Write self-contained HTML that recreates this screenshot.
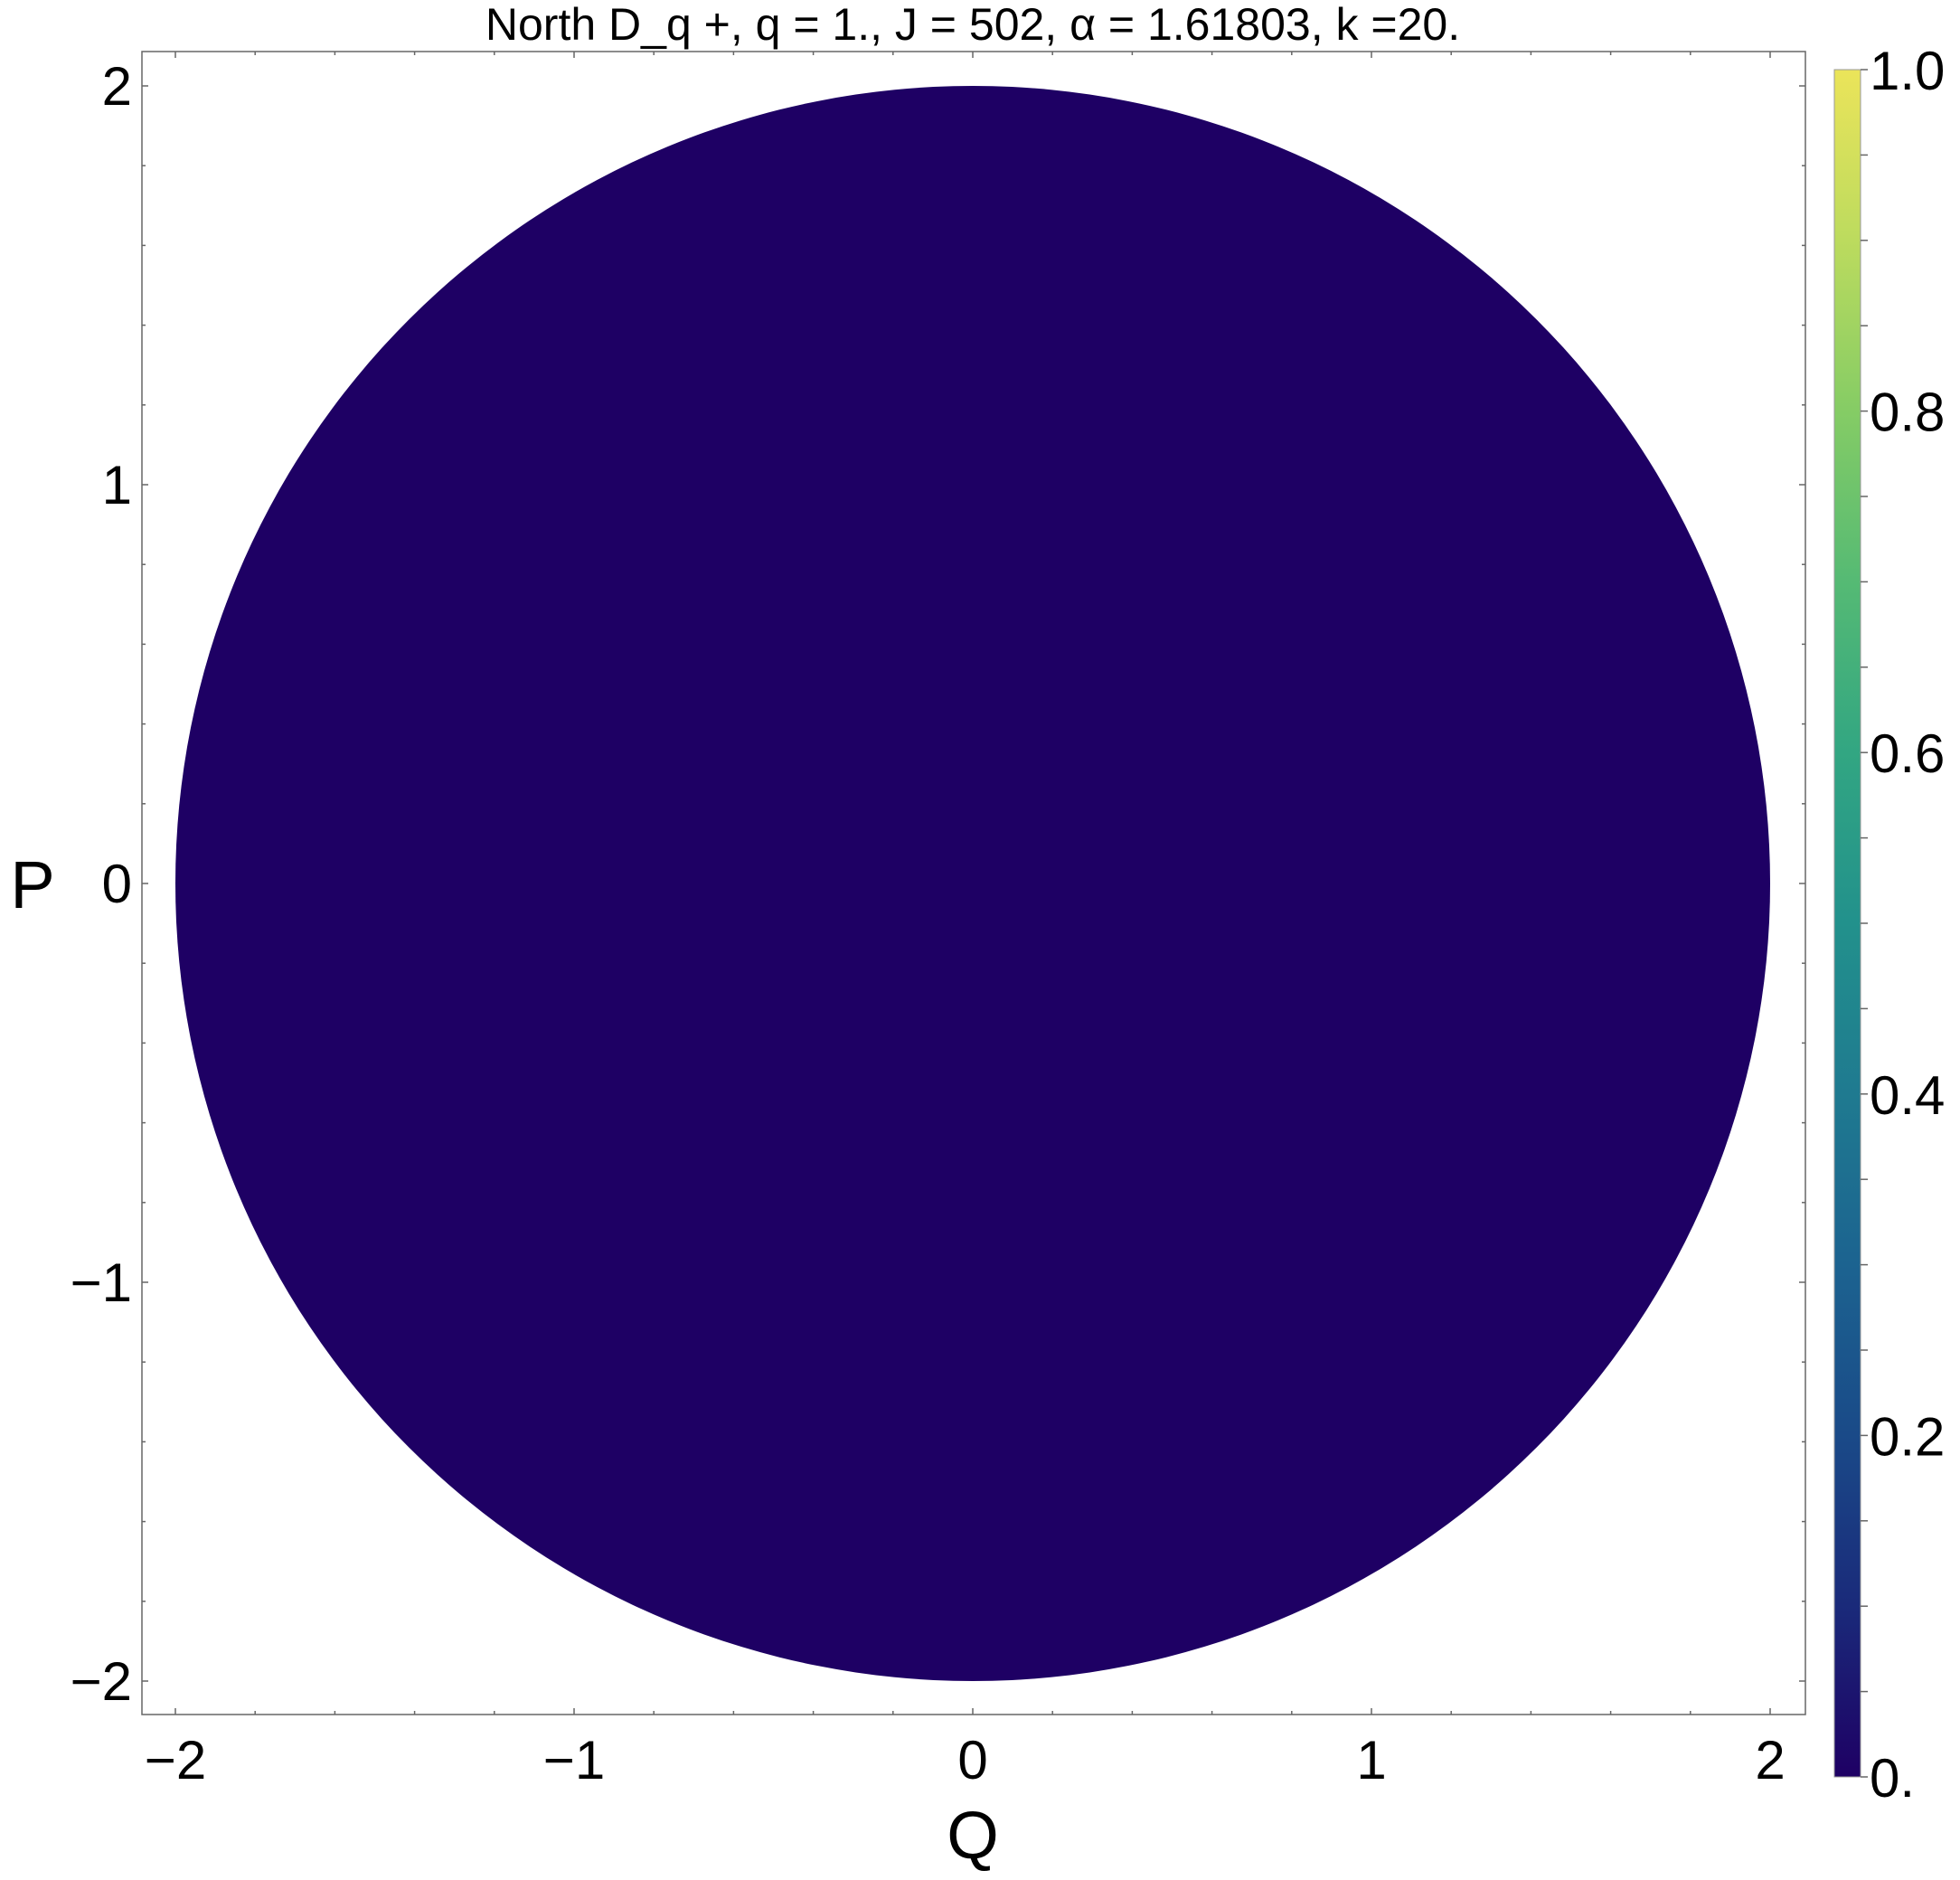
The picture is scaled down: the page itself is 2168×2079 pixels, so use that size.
<!DOCTYPE html>
<html><head><meta charset="utf-8"><style>
body{margin:0;background:#fff}
text{font-family:"Liberation Sans",sans-serif;fill:#000}
</style></head><body>
<svg id="s" width="2168" height="2074" xmlns="http://www.w3.org/2000/svg">
<defs><linearGradient id="vir" x1="0" y1="1" x2="0" y2="0">
<stop offset="0" stop-color="#1e0064"/><stop offset="0.1" stop-color="#1a2a7a"/><stop offset="0.2" stop-color="#1a4a88"/><stop offset="0.3" stop-color="#1c6390"/><stop offset="0.4" stop-color="#1f7a90"/><stop offset="0.5" stop-color="#22918c"/><stop offset="0.6" stop-color="#32a682"/><stop offset="0.7" stop-color="#55ba74"/><stop offset="0.8" stop-color="#85cc65"/><stop offset="0.9" stop-color="#bcdb5e"/><stop offset="1" stop-color="#ebe45a"/>
</linearGradient></defs>
<text x="1076" y="44" font-size="50" text-anchor="middle">North D_q +, q = 1., J = 502, α = 1.61803, k =20.</text>
<g id="plot"></g>
<text x="1076" y="2055" font-size="74" text-anchor="middle">Q</text>
<text x="36" y="1004" font-size="74" text-anchor="middle">P</text>
</svg>
<script>
const xTicks=[-2,-1,0,1,2];
const yTicks=[-2,-1,0,1,2];
const circleCenter=[0,0];
const circleRadius=[2];
const cbTicks=[0,0.2,0.4,0.6,0.8,1.0];
const cbLabels=["0.","0.2","0.4","0.6","0.8","1.0"];
const ns="http://www.w3.org/2000/svg";
const g=document.getElementById('plot');
const L=157,R=1997,T=57,B=1896;
const sx=v=>1076+v*441;
const sy=v=>977-v*441;
function mk(t,a){const e=document.createElementNS(ns,t);for(const k in a)e.setAttribute(k,a[k]);g.appendChild(e);return e;}
const c=mk('ellipse',{cx:sx(circleCenter[0]),cy:sy(circleCenter[1]),rx:circleRadius[0]*441,ry:circleRadius[0]*441,fill:'#1e0064'});


const f=mk('rect',{x:L,y:T,width:R-L,height:B-T,fill:'none',stroke:'#666','stroke-width':1.5});


for(let i=-10;i<=10;i++){const v=i*0.2;const major=Math.abs(v-Math.round(v))<1e-6;const len=major?7:4;
 const x=sx(v);if(x>L&&x<R){mk('line',{x1:x,y1:B,x2:x,y2:B-len,stroke:'#666','stroke-width':1.5});mk('line',{x1:x,y1:T,x2:x,y2:T+len,stroke:'#666','stroke-width':1.5});}
 const y=sy(v);if(y>T&&y<B){mk('line',{x1:L,y1:y,x2:L+len,y2:y,stroke:'#666','stroke-width':1.5});mk('line',{x1:R,y1:y,x2:R-len,y2:y,stroke:'#666','stroke-width':1.5});}}
xTicks.forEach(v=>{const t=mk('text',{x:sx(v),y:1967,'font-size':60,'text-anchor':'middle'});t.textContent=(v<0?'\u2212':'')+Math.abs(v);

});
yTicks.forEach(v=>{const t=mk('text',{x:146,y:sy(v)+21,'font-size':60,'text-anchor':'end'});t.textContent=(v<0?'\u2212':'')+Math.abs(v);

});
const cT=77,cB=1965,cL=2029,cR=2058;
const cy=v=>cB-v*(cB-cT);
const cb=mk('rect',{x:cL,y:cT,width:cR-cL,height:cB-cT,fill:'url(#vir)',stroke:'#999','stroke-width':1});


for(let i=0;i<=20;i++){mk('line',{x1:cR,y1:cy(i*0.05),x2:cR+8,y2:cy(i*0.05),stroke:'#666','stroke-width':1.5});}
cbTicks.forEach((v,i)=>{const t=mk('text',{x:2068,y:cy(v)+22,'font-size':60});t.textContent=cbLabels[i];

});
</script>
</body></html>
